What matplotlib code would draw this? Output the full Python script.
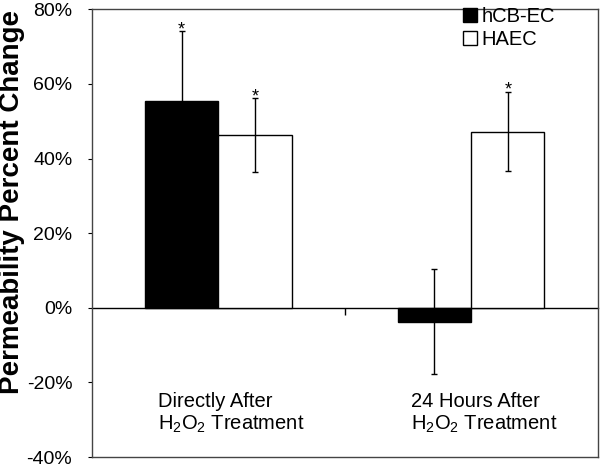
import matplotlib
matplotlib.use('Agg')
import matplotlib.pyplot as plt
from matplotlib.ticker import PercentFormatter
import numpy as np

plt.rcParams['font.family'] = ['Liberation Sans', 'DejaVu Sans']
plt.rcParams['mathtext.default'] = 'regular'
plt.rcParams['axes.unicode_minus'] = False

groups = ['Directly After\nH$_2$O$_2$ Treatment', '24 Hours After\nH$_2$O$_2$ Treatment']
hcb_ec = [55.4, -3.7]
hcb_err = [18.7, 14.1]
haec = [46.2, 47.2]
haec_err = [9.9, 10.6]
star_hcb = [True, False]
star_haec = [True, True]

x = np.arange(len(groups))
w = 0.29

fig = plt.figure(figsize=(6, 4.65), dpi=100)
ax = fig.add_axes([0.153, 0.017, 0.843, 0.963])

err_kw = dict(ecolor='black', elinewidth=1.0, capsize=2.5, capthick=1.0)
ax.bar(x - w / 2, hcb_ec, w, color='black', edgecolor='black', linewidth=1.0,
       yerr=hcb_err, error_kw=err_kw, label='hCB-EC', zorder=2)
ax.bar(x + w / 2, haec, w, color='white', edgecolor='black', linewidth=1.0,
       yerr=haec_err, error_kw=err_kw, label='HAEC', zorder=2)

# significance stars just above the error caps
for i in range(len(groups)):
    if star_hcb[i]:
        ax.text(x[i] - w / 2, hcb_ec[i] + hcb_err[i] - 1.8, '*', ha='center', va='bottom', fontsize=13)
    if star_haec[i]:
        ax.text(x[i] + w / 2, haec[i] + haec_err[i] - 1.8, '*', ha='center', va='bottom', fontsize=13)

ax.set_xlim(-0.5, 1.5)
ax.set_ylim(-40, 80)
ax.set_yticks(np.arange(-40, 81, 20))
ax.yaxis.set_major_formatter(PercentFormatter(decimals=0))
ax.tick_params(axis='y', direction='out', length=3, width=0.8, labelsize=14, pad=11)
ax.set_xticks([])
for s in ax.spines.values():
    s.set_color('#444444')
    s.set_linewidth(1.0)

# zero line with the category divider tick
zero = ax.secondary_xaxis(1 / 3)
zero.set_xticks([0.5])
zero.set_xticklabels([])
zero.tick_params(direction='out', length=5, width=1.0)
zero.spines['bottom'].set_linewidth(1.0)

for i, g in enumerate(groups):
    ax.text(x[i] - 0.238, -28.3, g, ha='left', va='center', multialignment='left',
            fontsize=14.5, linespacing=1.15)

fig.text(0.02, 1 - 201.5 / 465, 'Permeability Percent Change', rotation=90, ha='center', va='center',
         fontsize=20, fontweight='bold')

ax.legend(loc='upper left', bbox_to_anchor=(0.733, 1.005), frameon=False, fontsize=14.5,
          handlelength=0.7, handleheight=0.7, handletextpad=0.25, labelspacing=0.2,
          borderpad=0, borderaxespad=0)

fig.savefig('out.png', dpi=100)
